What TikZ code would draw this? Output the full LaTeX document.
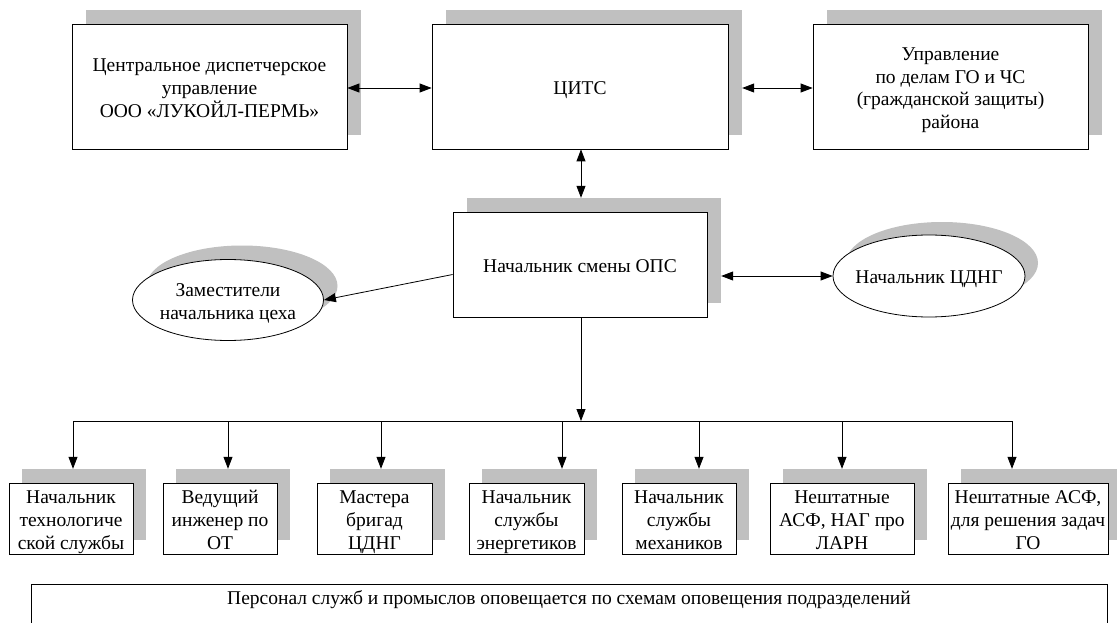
\documentclass[tikz,border=0pt]{standalone}
\usepackage{fontspec}
\setmainfont{Liberation Serif}
\usetikzlibrary{arrows.meta,shapes.geometric}
\definecolor{shadowgray}{RGB}{192,192,192}
\newcommand{\boxtext}[1]{\rule{0pt}{20.5pt}#1\rule[-4.6pt]{0pt}{4.6pt}}

\tikzset{
	box/.style={draw=black, fill=white, line width=0.8pt, align=center, inner sep=0pt},
	shade/.style={fill=shadowgray, draw=none, inner sep=0pt},
	oval/.style={ellipse, draw=black, fill=white, line width=0.8pt, align=center, inner sep=-14pt},
	ovalshade/.style={ellipse, fill=shadowgray, draw=none, inner sep=0pt},
	arr/.style={-{Triangle[length=12pt,width=9pt]}, line width=0.8pt},
	dbl/.style={{Triangle[length=12pt,width=9pt]}-{Triangle[length=12pt,width=9pt]}, line width=0.8pt}
}

\begin{document}
\begin{tikzpicture}[x=1pt,y=-1pt,font=\fontsize{19.5}{22.8}\selectfont]
	\clip (0,0) rectangle (1117,623);
	\fill[white] (0,0) rectangle (1117,623);
	% top row
	\node[shade, minimum width=275, minimum height=125] (c1s) at (223.5,72.5) {};
	\node[box, minimum width=275, minimum height=125] (c1) at (209.5,86.5) {\boxtext{Центральное диспетчерское\\управление\\ООО «ЛУКОЙЛ-ПЕРМЬ»}};
	\node[shade, minimum width=296, minimum height=125] (c2s) at (594,72.5) {};
	\node[box, minimum width=296, minimum height=125] (c2) at (580,86.5) {\boxtext{ЦИТС}};
	\node[shade, minimum width=275, minimum height=125] (c3s) at (964.5,72.5) {};
	\node[box, minimum width=275, minimum height=125] (c3) at (950.5,86.5) {\boxtext{Управление\\по делам ГО и ЧС\\(гражданской защиты)\\района}};
	% middle
	\node[shade, minimum width=254, minimum height=105] (opss) at (594,250.5) {};
	\node[box, minimum width=254, minimum height=105] (ops) at (580,264.5) {\boxtext{Начальник смены ОПС}};
	\node[ovalshade, minimum width=191, minimum height=81] (zams) at (242,286) {};
	\node[oval, minimum width=191, minimum height=81] (zam) at (228,300) {\boxtext{Заместители\\начальника цеха}};
	\node[ovalshade, minimum width=192, minimum height=82] (cdngs) at (942,263) {};
	\node[oval, minimum width=192, minimum height=82] (cdng) at (929,276) {\boxtext{Начальник ЦДНГ}};
	% connectors
	\draw[dbl] ([yshift=-1.5pt]c1.east) -- ([yshift=-1.5pt]c2.west);
	\draw[dbl] ([yshift=-1.5pt]c3.west -| c2s.east) -- ([yshift=-1.5pt]c3.west);
	\draw[dbl] ([xshift=1pt]c2.south) -- ([xshift=1pt]c2.south |- opss.north);
	\draw[arr] ([yshift=-10pt]ops.west) -- (zam.east);
	\draw[dbl] (cdng.west -| opss.east) -- (cdng.west);
	% bus
	\coordinate (busL) at (73,421);
	\coordinate (busR) at (1012,421);
	\draw[line width=0.8pt] (busL) -- (busR);
	\draw[arr] ([xshift=1pt]ops.south) -- ([xshift=1pt]ops.south |- busL);
	% bottom row
	\foreach \n/\x/\w/\t/\txt in {1/71/124/73/{Начальник\\технологиче\\ской службы},
		2/220/114/228/{Ведущий\\инженер по\\ОТ},
		3/374.5/115/381/{Мастера\\бригад\\ЦДНГ},
		4/526.5/115/562/{Начальник\\службы\\энергетиков},
		5/679/114/699/{Начальник\\службы\\механиков},
		6/842/144/842/{Нештатные\\АСФ, НАГ про\\ЛАРН},
		7/1028/160/1012/{Нештатные АСФ,\\для решения задач\\ГО}}
	{
		\node[shade, minimum width=\w, minimum height=71] (b\n s) at (\x+13,504.5) {};
		\node[box, minimum width=\w, minimum height=71] (b\n) at (\x,518.5) {\boxtext{\txt}};
		\coordinate (t\n) at (\t,421);
		\draw[arr] (t\n) -- (t\n |- b\n s.north);
	}
	% note
	\node[draw=black, line width=0.8pt, minimum width=1076, minimum height=60, anchor=north west] (note) at (31,584) {};
	\node[anchor=center] (notetext) at (569,600) {Персонал служб и промыслов оповещается по схемам оповещения подразделений};
\end{tikzpicture}
\end{document}
